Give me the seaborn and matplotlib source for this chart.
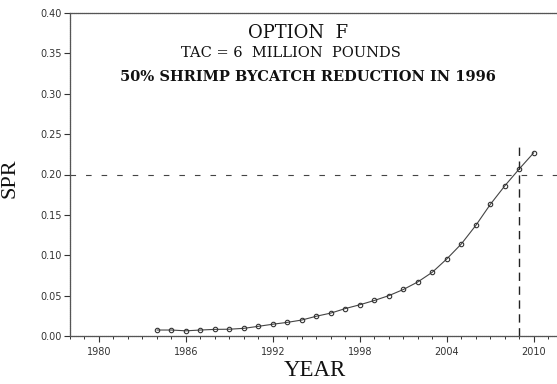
import matplotlib
matplotlib.use("Agg")
import matplotlib.pyplot as plt
import seaborn as sns
import pandas as pd
from matplotlib.ticker import MultipleLocator

# SPR projection, option F
years = list(range(1984, 2011))
spr = [0.0074, 0.0074, 0.0064, 0.0074, 0.0082, 0.0084, 0.0095, 0.0120, 0.0146,
       0.0169, 0.0198, 0.0245, 0.0284, 0.0340, 0.0387, 0.0440, 0.0500, 0.0576,
       0.0670, 0.0790, 0.0955, 0.1140, 0.1370, 0.1630, 0.1860, 0.2070, 0.2270]
target_spr = 0.20
target_year = 2008.95

title_lines = ["OPTION  F", "TAC = 6  MILLION  POUNDS",
               "50% SHRIMP BYCATCH REDUCTION IN 1996"]

data = pd.DataFrame({"YEAR": years, "SPR": spr})

sns.set_theme(style="ticks")
plt.rcParams["font.family"] = ["DejaVu Sans"]

fig = plt.figure(figsize=(5.57, 3.84), dpi=100)
ax = fig.add_axes([70 / 557, 1 - 336 / 384, 1 - 70 / 557, (336 - 13) / 384])

sns.lineplot(data=data, x="YEAR", y="SPR", ax=ax, color="#444444", lw=0.8,
             marker="o", markersize=3.2, markerfacecolor="none",
             markeredgecolor="#333333", markeredgewidth=0.8)

# reference lines
ax.axhline(target_spr, color="#444444", lw=0.8, ls=(0, (5, 9)))
ax.axvline(target_year, ymax=0.60, color="#222222", lw=1.0, ls=(0, (6, 4)))

ax.set_xlim(1978, 2011.6)
ax.set_ylim(0, 0.40)
ax.xaxis.set_major_locator(MultipleLocator(6))
ax.xaxis.set_minor_locator(MultipleLocator(1))
ax.yaxis.set_major_locator(MultipleLocator(0.05))
ax.yaxis.set_major_formatter(matplotlib.ticker.FormatStrFormatter("%.2f"))

ax.tick_params(axis="both", which="major", labelsize=7, length=4, width=0.8,
               colors="#333333", pad=2)
ax.tick_params(axis="x", which="minor", length=2.5, width=0.7, colors="#333333")
ax.tick_params(axis="x", which="major", pad=4)

for side in ["left", "bottom", "top"]:
    ax.spines[side].set_color("#555555")
    ax.spines[side].set_linewidth(0.9)
    ax.spines[side].set_linestyle((0, (1, 0.6)))
ax.spines["right"].set_visible(False)

ax.set_xlabel("YEAR", family="Liberation Serif", fontsize=16.5, color="#111111")
ax.xaxis.set_label_coords((315 - 70) / (557 - 70), -0.075)
ax.set_ylabel("SPR", family="Liberation Serif", fontsize=16, color="#111111")
ax.yaxis.set_label_coords(-(70 - 20) / (557 - 70), (336 - 178) / 323)

fig.text(298 / 557, 1 - 33 / 384, title_lines[0], family="DejaVu Serif",
         fontsize=13, ha="center", va="center", color="#111111")
fig.text(291 / 557, 1 - 53 / 384, title_lines[1], family="DejaVu Serif",
         fontsize=10.5, ha="center", va="center", color="#111111")
fig.text(308 / 557, 1 - 77 / 384, title_lines[2], family="DejaVu Serif",
         fontsize=10.5, fontweight="bold", ha="center", va="center",
         color="#111111")

fig.savefig("out.png", dpi=100)
